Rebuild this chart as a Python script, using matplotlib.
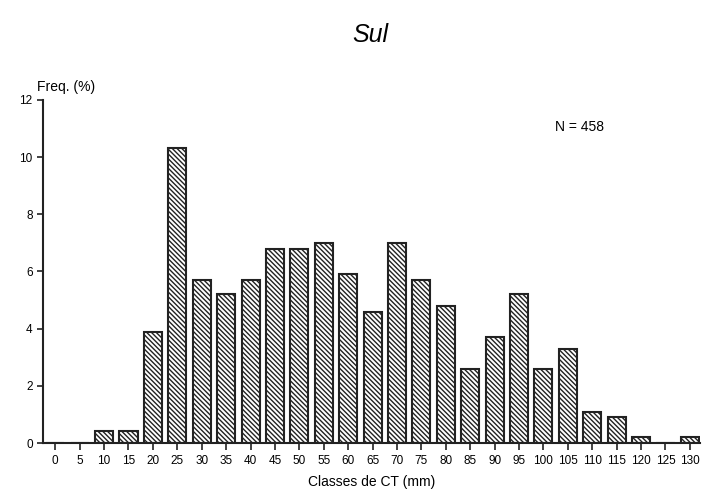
import matplotlib
matplotlib.use("Agg")
import matplotlib.pyplot as plt
import numpy as np

# classes de comprimento total (mm) e frequencia (%)
classes = ['0', '5', '10', '15', '20', '25', '30', '35', '40', '45', '50', '55', '60',
           '65', '70', '75', '80', '85', '90', '95', '100', '105', '110', '115', '120',
           '125', '130']
freq = [0, 0, 0.44, 0.44, 3.9, 10.3, 5.7, 5.2, 5.7, 6.8, 6.8, 7.0, 5.9,
        4.6, 7.0, 5.7, 4.8, 2.6, 3.7, 5.2, 2.6, 3.3, 1.1, 0.9, 0.2,
        0, 0.2]
n_total = 458

plt.rcParams['font.family'] = ['Liberation Sans', 'DejaVu Sans']
plt.rcParams['hatch.linewidth'] = 1.0

fig = plt.figure(figsize=(7.06, 4.99), dpi=100)
ax = fig.add_axes([0.061, 0.112, 0.93, 0.688])

x = np.arange(len(classes))
ax.bar(x, freq, width=0.74, color='white', edgecolor='#222222',
       hatch='\\' * 7, linewidth=1.5)

ax.set_xlim(-0.5, len(classes) - 0.6)
ax.set_ylim(0, 12)
ax.set_yticks([0, 2, 4, 6, 8, 10, 12])
ax.set_xticks(x)
ax.set_xticklabels(classes, fontsize=8.5)
ax.tick_params(axis='y', labelsize=8.5, length=4, width=1.2, color='#222222')
ax.tick_params(axis='x', length=5, width=1.2, color='#222222')
for s in ['top', 'right']:
    ax.spines[s].set_visible(False)
for s in ['left', 'bottom']:
    ax.spines[s].set_linewidth(1.5)
    ax.spines[s].set_color('#222222')

fig.text(0.524, 0.93, 'Sul', fontsize=18, style='italic', ha='center', va='center')
fig.text(0.052, 0.825, 'Freq. (%)', fontsize=10, ha='left', va='center')
ax.text(0.78, 0.92, 'N = %d' % n_total, transform=ax.transAxes, fontsize=10,
        ha='left', va='center')
ax.set_xlabel('Classes de CT (mm)', fontsize=10, labelpad=6)

fig.savefig('out.png', dpi=100)
